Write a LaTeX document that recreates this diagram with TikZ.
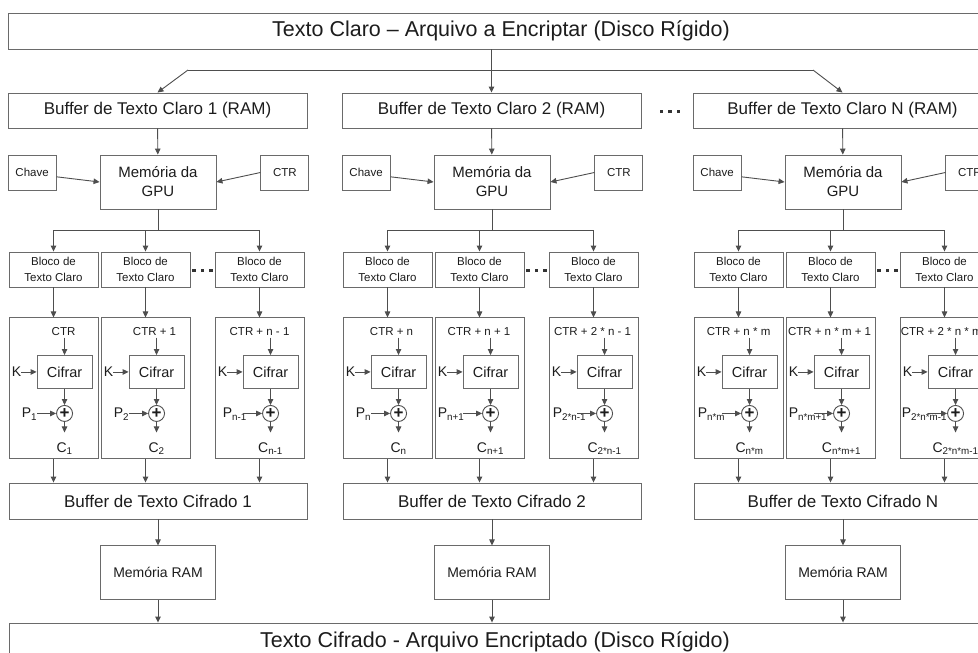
\documentclass[tikz,border=0pt]{standalone}
\usepackage{fontspec}
\setmainfont{Liberation Sans}
\usetikzlibrary{positioning, arrows.meta, calc}
\definecolor{edgegray}{HTML}{6A6A6A}
\definecolor{wiregray}{HTML}{4E4E4E}
\definecolor{inkgray}{HTML}{1C1C1C}
\tikzset{
  disk/.style   = {rectangle, draw=edgegray, line width=0.9pt, minimum height=36pt,
                   inner sep=0pt, text=inkgray, font=\fontsize{21.5}{25}\selectfont},
  buffer/.style = {rectangle, draw=edgegray, line width=0.9pt, minimum width=299pt,
                   minimum height=35pt, inner sep=0pt, text=inkgray,
                   font=\fontsize{17}{20}\selectfont},
  memo/.style   = {rectangle, draw=edgegray, line width=0.9pt, minimum width=116pt,
                   minimum height=54pt, inner sep=0pt, align=center, text=inkgray,
                   font=\fontsize{15}{19}\selectfont},
  tag/.style    = {rectangle, draw=edgegray, line width=0.9pt, minimum width=48pt,
                   minimum height=35pt, inner sep=0pt, text=inkgray,
                   font=\fontsize{11.5}{14}\selectfont},
  block/.style  = {rectangle, draw=edgegray, line width=0.9pt, minimum width=89pt,
                   minimum height=35pt, inner sep=0pt, align=center, text=inkgray,
                   font=\fontsize{11.5}{15.3}\selectfont},
  cell/.style   = {rectangle, draw=edgegray, line width=0.9pt, minimum width=89pt,
                   minimum height=141pt, inner sep=0pt},
  cipher/.style = {rectangle, draw=edgegray, line width=0.9pt, minimum width=55pt,
                   minimum height=33pt, inner sep=0pt, text=inkgray,
                   font=\fontsize{14.5}{17}\selectfont},
  xor/.style    = {circle, draw=wiregray, line width=0.9pt, minimum size=16pt, inner sep=0pt,
                   text=inkgray, font=\bfseries\fontsize{17}{17}\selectfont},
  lab/.style    = {inner sep=0pt, text=inkgray, font=\fontsize{11.5}{14}\selectfont},
  sym/.style    = {inner sep=0pt, text=inkgray, font=\fontsize{14}{16}\selectfont},
  gap/.style    = {inner sep=0pt, text=inkgray!90},
  wire/.style   = {draw=wiregray, line width=0.9pt},
  arr/.style    = {wire, -{Triangle[length=6pt, width=5.5pt]}},
}
\newcommand{\dotrow}{\rule{3.2pt}{3.2pt}\hspace{5.3pt}\rule{3.2pt}{3.2pt}\hspace{5.3pt}\rule{3.2pt}{3.2pt}}

\begin{document}
\begin{tikzpicture}[x=1pt, y=-1pt]
\useasboundingbox (0,0) rectangle (978,653);
\clip (0,0) rectangle (978,653);

% Hard disk: plaintext file on top, ciphertext file at the bottom
\node (src) [disk, minimum width=986pt] at (501,31) {Texto Claro – Arquivo a Encriptar (Disco Rígido)};
\node (dst) [disk, minimum width=972pt, minimum height=37pt] at (495,641.5) {Texto Cifrado - Arquivo Encriptado (Disco Rígido)};

% One column per plaintext buffer
\foreach \i/\dx in {1/0, 2/334, N/685} {
  \node (bc\i) [buffer] at (157.5+\dx,110.5) {Buffer de Texto Claro \i\ (RAM)};
  \node (gpu\i) [memo] at (158+\dx,182) {Memória da\\GPU};
  \node (key\i) [tag, left=43pt of gpu\i.north west, anchor=north east] {Chave};
  \node (ctr\i) [tag, right=44pt of gpu\i.north east, anchor=north west] {CTR};
  \node (bf\i) [buffer, minimum width=298pt, minimum height=36pt] at (158+\dx,501) {Buffer de Texto Cifrado \i};
  \node (ram\i) [memo, minimum width=115pt, font=\fontsize{14}{17}\selectfont, below=26pt of bf\i] {Memória RAM};
  \node (gap\i) [gap] at (202.5+\dx,270.5) {\dotrow};

  \draw [arr] (bc\i) -- (gpu\i);
  \draw [arr] (key\i.-10) -- (gpu\i.west);
  \draw [arr] (ctr\i.west) -- (gpu\i.east);
  \draw [arr] (bf\i) -- (ram\i);
  \draw [arr] (ram\i) -- (ram\i |- dst.north);

  \foreach \j/\bx in {a/9, b/101, z/215} {
    \node (blk\i\j) [block] at (\bx+44.5+\dx,269.5) {Bloco de\\Texto Claro};
    \node (cel\i\j) [cell, below=30pt of blk\i\j] {};
    \draw [arr] (gpu\i) -- ++(0,48) -| (blk\i\j);
    \draw [arr] (blk\i\j) -- (cel\i\j);
    \draw [arr] (cel\i\j) -- (cel\i\j |- bf\i.north);
  }
}

% Fan-out from the file to the buffers
\coordinate (fork1) at (188,70);
\coordinate (forkN) at (813,70);
\draw [wire] (fork1) -- (forkN);
\draw [arr] (fork1) -- (bc1.north);
\draw [arr] (forkN) -- (bcN.north);
\draw [arr] (src.south -| bc2) -- (bc2);
\node (more) [gap] at (670,111.5) {\dotrow};

% Counter mode inside each cell
\foreach \cid/\val/\tx/\pl/\sub in {1a/CTR/55/13/1, 1b/CTR + 1/54/13/2, 1z/CTR + n - 1/45/8/n-1,
    2a/CTR + n/49/13/n, 2b/CTR + n + 1/44.5/3/n+1, 2z/CTR + 2 * n - 1/44/4/2*n-1,
    Na/CTR + n * m/45/4/n*m, Nb/CTR + n * m + 1/44/3/n*m+1, Nz/CTR + 2 * n * m - 1/50/2/2*n*m-1} {
  \node (cnt\cid) [lab] at ($(cel\cid.north west)+(\tx,14)$) {\val};
  \node (cif\cid) [cipher] at ($(cel\cid.north west)+(56,54.5)$) {Cifrar};
  \node (k\cid) [sym] at ($(cel\cid.north west)+(8,54.5)$) {K};
  \node (xor\cid) [xor] at ($(cel\cid.north west)+(56,96)$) {+};
  \node (p\cid) [sym, anchor=base west] at ($(cel\cid.north west)+(\pl,100.5)$) {P\textsubscript{\sub}};
  \node (c\cid) [sym, anchor=base] at ($(cel\cid.north west)+(56,135)$) {C\textsubscript{\sub}};
  \coordinate (pin\cid) at ($(xor\cid.west)+(-19,0)$);

  \draw [arr, shorten <=2pt] (cif\cid.north |- cnt\cid.south) -- (cif\cid);
  \draw [arr] (k\cid) -- (cif\cid);
  \draw [arr] (cif\cid) -- (xor\cid);
  \draw [arr] (pin\cid) -- (xor\cid);
  \draw [arr, shorten >=10pt] (xor\cid) -- (c\cid);
}

\end{tikzpicture}
\end{document}
